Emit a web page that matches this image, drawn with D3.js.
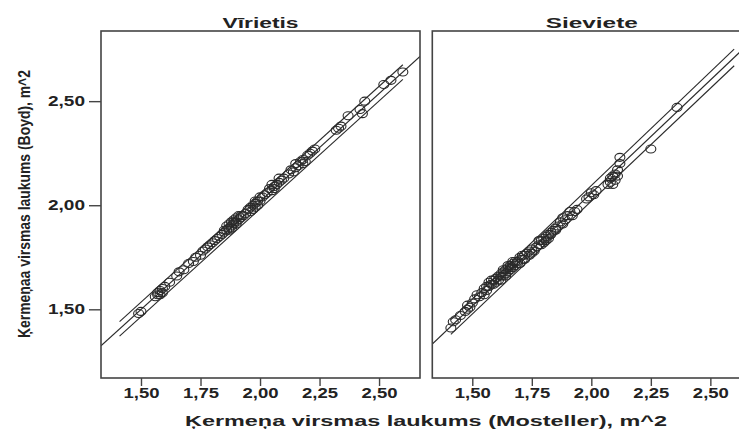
<!DOCTYPE html>
<html>
<head>
<meta charset="utf-8">
<script src="https://cdn.jsdelivr.net/npm/d3@7"></script>
<style>
  html, body { margin: 0; padding: 0; background: #fff; }
  svg { display: block; }
  text { font-family: "Liberation Sans", Arial, sans-serif; font-weight: bold; fill: #222; }
</style>
</head>
<body>
<svg id="chart" width="739" height="429"></svg>
<script>
// Body surface area: Mosteller (x) vs Boyd (y), split by sex
const panelTitles = ["Vīrietis", "Sieviete"];

const menX = [1.49,1.50,1.56,1.57,1.58,1.58,1.59,1.60,1.62,1.65,1.66,1.68,1.70,1.72,1.73,1.75,1.76,1.77,1.78,1.79,
  1.80,1.81,1.82,1.83,1.84,1.85,1.85,1.86,1.87,1.87,1.88,1.88,1.89,1.89,1.90,1.90,1.91,1.92,1.93,1.94,
  1.95,1.96,1.96,1.97,1.98,1.98,1.99,2.00,2.01,2.02,2.03,2.05,2.06,2.07,2.08,2.09,2.10,2.12,2.13,2.15,
  2.16,2.18,2.19,2.20,2.21,2.22,2.23,2.32,2.34,2.37,2.42,2.44,2.52,2.55,2.60,
  1.57,1.59,1.86,1.87,1.88,1.89,1.90,1.91,1.92,1.97,1.98,1.99,2.00,2.04,2.05,2.06,2.08,2.14,2.15,2.17,
  2.18,2.33,2.43];
const menY = [1.48,1.49,1.56,1.58,1.57,1.59,1.60,1.61,1.63,1.66,1.68,1.69,1.72,1.73,1.75,1.76,1.78,1.79,1.80,1.81,
  1.82,1.83,1.84,1.85,1.86,1.87,1.88,1.88,1.89,1.91,1.90,1.92,1.91,1.93,1.92,1.94,1.93,1.95,1.95,1.96,
  1.98,1.97,1.99,2.00,2.01,1.99,2.02,2.02,2.04,2.05,2.06,2.07,2.09,2.10,2.11,2.12,2.13,2.15,2.17,2.18,
  2.19,2.22,2.21,2.24,2.25,2.26,2.27,2.36,2.38,2.43,2.46,2.50,2.58,2.60,2.64,
  1.57,1.58,1.90,1.88,1.89,1.92,1.91,1.95,1.94,1.98,2.02,2.00,2.04,2.08,2.10,2.08,2.13,2.16,2.20,2.21,
  2.20,2.37,2.44];

const womenX = [1.41,1.42,1.43,1.45,1.47,1.48,1.49,1.50,1.51,1.52,1.53,1.54,1.55,1.56,1.57,1.57,1.58,1.59,1.60,1.60,
  1.61,1.62,1.62,1.63,1.63,1.64,1.64,1.65,1.65,1.66,1.66,1.67,1.67,1.68,1.69,1.70,1.70,1.71,1.72,1.73,
  1.74,1.75,1.76,1.77,1.78,1.79,1.80,1.80,1.81,1.82,1.82,1.83,1.84,1.85,1.86,1.87,1.88,1.89,1.90,1.92,
  1.93,1.94,1.98,1.99,2.00,2.01,2.02,2.07,2.08,2.09,2.09,2.10,2.11,2.12,2.12,2.25,2.36,
  1.48,1.55,1.56,1.58,1.59,1.61,1.62,1.63,1.64,1.65,1.66,1.67,1.68,1.69,1.71,1.72,1.74,1.75,1.78,1.79,
  1.81,1.83,1.85,1.88,1.91,2.08,2.10,2.11];
const womenY = [1.41,1.44,1.45,1.47,1.49,1.52,1.51,1.53,1.55,1.57,1.56,1.58,1.60,1.59,1.61,1.63,1.62,1.64,1.63,1.65,
  1.66,1.64,1.67,1.66,1.68,1.67,1.69,1.68,1.70,1.69,1.71,1.70,1.72,1.71,1.73,1.72,1.75,1.74,1.76,1.77,
  1.76,1.79,1.78,1.80,1.81,1.83,1.82,1.84,1.85,1.84,1.86,1.87,1.88,1.89,1.90,1.92,1.91,1.93,1.95,1.95,
  1.97,1.98,2.03,2.04,2.06,2.05,2.07,2.10,2.13,2.10,2.14,2.15,2.17,2.20,2.23,2.27,2.47,
  1.50,1.57,1.61,1.64,1.62,1.64,1.66,1.69,1.66,1.71,1.70,1.73,1.73,1.72,1.76,1.74,1.78,1.77,1.83,1.81,
  1.83,1.86,1.88,1.94,1.97,2.11,2.12,2.14];

// Fit lines (over the full x range) and interval lines (over the pooled data range)
const fitX = [1.332, 2.672];
const menFitY = [1.325, 2.715];
const womenFitY = [1.333, 2.788];
const ciX = [1.41, 2.60];
const menUpperY = [1.441, 2.675];
const menLowerY = [1.371, 2.605];
const womenUpperY = [1.450, 2.750];
const womenLowerY = [1.380, 2.670];

const xTicks = [1.50, 1.75, 2.00, 2.25, 2.50];
const yTicks = [1.50, 2.00, 2.50];
const xDomain = [1.332, 2.672];
const yDomain = [1.170, 2.837];

const xTitle = "Ķermeņa virsmas laukums (Mosteller), m^2";
const yTitle = "Ķermeņaa virsmas laukums (Boyd), m^2";

const panels = [
  { title: panelTitles[0], xs: menX, ys: menY, fit: menFitY, up: menUpperY, lo: menLowerY, left: 101, right: 420, titleW: 76 },
  { title: panelTitles[1], xs: womenX, ys: womenY, fit: womenFitY, up: womenUpperY, lo: womenLowerY, left: 432.3, right: 751.3, titleW: 92 }
];

const svg = d3.select("#chart");
svg.append("rect").attr("width", 739).attr("height", 429).attr("fill", "#fff");

const plotTop = 31, plotBottom = 378;
const y = d3.scaleLinear().domain(yDomain).range([plotBottom, plotTop]);
const fmt = v => d3.format(".2f")(v).replace(".", ",");
const ink = "#2a2a2a";

panels.forEach((p, i) => {
  const x = d3.scaleLinear().domain(xDomain).range([p.left, p.right]);
  const g = svg.append("g");

  const clipId = "clip" + i;
  svg.append("clipPath").attr("id", clipId)
    .append("rect").attr("x", p.left).attr("y", plotTop)
    .attr("width", p.right - p.left).attr("height", plotBottom - plotTop);

  const plot = g.append("g").attr("clip-path", `url(#${clipId})`);
  const line = d3.line().x(d => x(d[0])).y(d => y(d[1]));

  plot.append("path").datum(d3.zip(fitX, p.fit)).attr("d", line)
    .attr("fill", "none").attr("stroke", ink).attr("stroke-width", 1.1);
  [p.up, p.lo].forEach(arr => {
    plot.append("path").datum(d3.zip(ciX, arr)).attr("d", line)
      .attr("fill", "none").attr("stroke", ink).attr("stroke-width", 1.1);
  });

  plot.selectAll("ellipse.pt").data(d3.zip(p.xs, p.ys)).join("ellipse")
    .attr("class", "pt")
    .attr("cx", d => x(d[0])).attr("cy", d => y(d[1]))
    .attr("rx", 5).attr("ry", 4)
    .attr("fill", "none").attr("stroke", ink).attr("stroke-width", 1.1);

  // frame
  g.append("rect").attr("x", p.left).attr("y", plotTop)
    .attr("width", p.right - p.left).attr("height", plotBottom - plotTop)
    .attr("fill", "none").attr("stroke", "#444").attr("stroke-width", 1.6);

  // x axis
  const xa = g.append("g").attr("transform", `translate(0,${plotBottom})`)
    .call(d3.axisBottom(x).tickValues(xTicks).tickSize(8).tickFormat(fmt));
  xa.select(".domain").remove();
  xa.selectAll(".tick line").attr("stroke", "#444").attr("stroke-width", 1.4);
  xa.selectAll(".tick text")
    .attr("y", 20).attr("dy", 0)
    .attr("font-size", 14).attr("fill", "#222")
    .attr("textLength", 36).attr("lengthAdjust", "spacingAndGlyphs")
    .style("font-family", "'Liberation Sans', Arial, sans-serif").style("font-weight", "bold");

  // panel title
  g.append("text").attr("x", (p.left + p.right) / 2).attr("y", 28)
    .attr("text-anchor", "middle").attr("font-size", 14)
    .attr("textLength", p.titleW).attr("lengthAdjust", "spacingAndGlyphs")
    .text(p.title);

  if (i === 0) {
    const ya = g.append("g").attr("transform", `translate(${p.left},0)`)
      .call(d3.axisLeft(y).tickValues(yTicks).tickSize(12).tickPadding(4).tickFormat(fmt));
    ya.select(".domain").remove();
    ya.selectAll(".tick line").attr("stroke", "#444").attr("stroke-width", 1.4);
    ya.selectAll(".tick text")
      .attr("font-size", 14).attr("fill", "#222")
      .attr("textLength", 37).attr("lengthAdjust", "spacingAndGlyphs")
      .style("font-family", "'Liberation Sans', Arial, sans-serif").style("font-weight", "bold");
  }
});

// axis titles
svg.append("text").attr("x", 426).attr("y", 426)
  .attr("text-anchor", "middle").attr("font-size", 15)
  .attr("textLength", 482).attr("lengthAdjust", "spacingAndGlyphs")
  .text(xTitle);

svg.append("text").attr("transform", "translate(30,204) rotate(-90)")
  .attr("text-anchor", "middle").attr("font-size", 17)
  .attr("textLength", 268).attr("lengthAdjust", "spacingAndGlyphs")
  .text(yTitle);
</script>
</body>
</html>
